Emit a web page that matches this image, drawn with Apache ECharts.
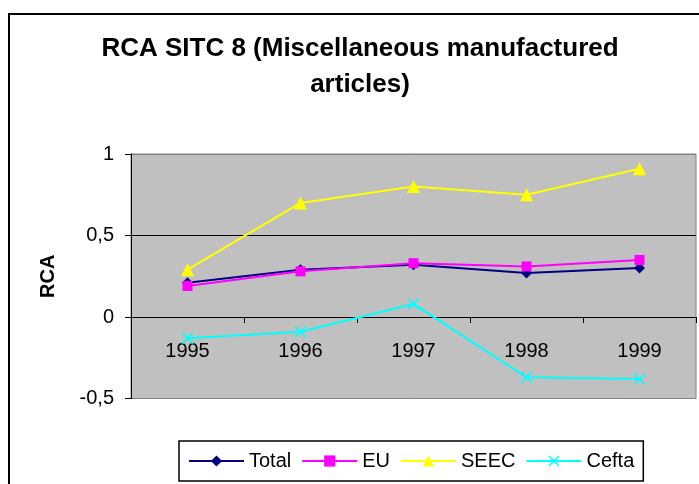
<!DOCTYPE html>
<html>
<head>
<meta charset="utf-8">
<script src="https://cdn.jsdelivr.net/npm/echarts@6/dist/echarts.min.js"></script>
<style>
  html, body { margin: 0; padding: 0; background: #fff; }
  #chart { width: 699px; height: 484px; }
</style>
</head>
<body>
<div id="chart"></div>
<script>
const categories = ['1995', '1996', '1997', '1998', '1999']
const total = [0.21, 0.29, 0.32, 0.27, 0.30]
const eu = [0.19, 0.28, 0.33, 0.31, 0.35]
const seec = [0.29, 0.70, 0.80, 0.75, 0.91]
const cefta = [-0.13, -0.09, 0.08, -0.37, -0.38]

const font = 'Liberation Sans, Arial, sans-serif'
// excel-like "x" marker, drawn as a filled cross
const crossSymbol = 'path://M0,1L1,0L5,4L9,0L10,1L6,5L10,9L9,10L5,6L1,10L0,9L4,5Z'

const echart = echarts.init(document.getElementById('chart'))

function lineSeries(name, data, color, symbol, size) {
  return {
    name: name,
    type: 'line',
    data: data,
    symbol: symbol,
    symbolSize: size,
    lineStyle: { color: color, width: 2 },
    itemStyle: { color: color },
    emphasis: { disabled: true }
  }
}

echart.setOption({
  animation: false,
  textStyle: { fontFamily: font },
  graphic: [
    {
      type: 'rect',
      shape: { x: 9, y: 14, width: 720, height: 500 },
      style: { fill: 'none', stroke: '#000', lineWidth: 2 },
      silent: true
    },
    {
      type: 'text',
      x: 360,
      y: 31,
      style: {
        text: 'RCA SITC 8 (Miscellaneous manufactured\narticles)',
        font: 'bold 26px ' + font,
        fill: '#000',
        align: 'center',
        verticalAlign: 'top',
        lineHeight: 36
      },
      silent: true
    }
  ],
  grid: {
    left: 131,
    top: 154,
    width: 565,
    height: 244.5,
    show: true,
    backgroundColor: '#c0c0c0',
    borderColor: '#808080',
    borderWidth: 1
  },
  legend: {
    left: 179,
    top: 441,
    padding: [10, 9],
    itemGap: 10,
    itemWidth: 55,
    itemHeight: 14,
    borderColor: '#000',
    borderWidth: 1.5,
    backgroundColor: '#fff',
    textStyle: { fontSize: 20, color: '#000', fontFamily: font },
    data: ['Total', 'EU', 'SEEC', 'Cefta']
  },
  xAxis: {
    type: 'category',
    data: categories,
    axisLine: { onZero: true, lineStyle: { color: '#000', width: 1 } },
    axisTick: { show: true, length: 6, lineStyle: { color: '#000' } },
    // labels sit just under the zero line, like the excel chart
    axisLabel: { fontSize: 20, color: '#000', margin: -57, fontFamily: font },
    splitLine: { show: false }
  },
  yAxis: {
    type: 'value',
    min: -0.5,
    max: 1,
    interval: 0.5,
    name: 'RCA',
    nameLocation: 'middle',
    nameRotate: 90,
    nameGap: 73,
    nameTextStyle: { fontSize: 20, fontWeight: 'bold', color: '#000', fontFamily: font },
    axisLine: { show: true, lineStyle: { color: '#000', width: 1 } },
    axisTick: { show: true, length: 6, lineStyle: { color: '#000' } },
    axisLabel: {
      fontSize: 20,
      color: '#000',
      margin: 17,
      fontFamily: font,
      formatter: (v) => String(v).replace('.', ',')
    },
    splitLine: {
      show: true,
      lineStyle: { color: ['#808080', '#000', '#000', '#808080'], width: 1 }
    }
  },
  series: [
    lineSeries('Total', total, '#000080', 'diamond', 11),
    lineSeries('EU', eu, '#ff00ff', 'rect', 10),
    lineSeries('SEEC', seec, '#ffff00', 'triangle', 13),
    lineSeries('Cefta', cefta, '#00ffff', crossSymbol, 12)
  ]
})
</script>
</body>
</html>
